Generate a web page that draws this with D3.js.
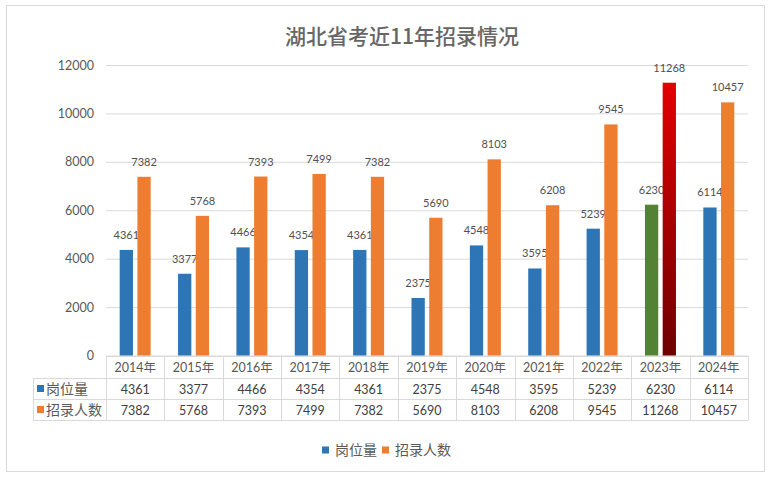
<!DOCTYPE html>
<html>
<head>
<meta charset="utf-8">
<script src="https://cdn.jsdelivr.net/npm/d3@7"></script>
<style>
  body { margin: 0; background: #fff; }
  svg { display: block; }
  text { font-family: Lato, "Noto Sans CJK SC", sans-serif; }
</style>
</head>
<body>
<svg id="chart" width="772" height="479"></svg>
<script>
/* Data */
var years = ["2014年", "2015年", "2016年", "2017年", "2018年", "2019年", "2020年", "2021年", "2022年", "2023年", "2024年"];
var seriesNames = ["岗位量", "招录人数"];
var posts = [4361, 3377, 4466, 4354, 4361, 2375, 4548, 3595, 5239, 6230, 6114];
var hires = [7382, 5768, 7393, 7499, 7382, 5690, 8103, 6208, 9545, 11268, 10457];
var yTicks = [0, 2000, 4000, 6000, 8000, 10000, 12000];

/* Settings */
var cfg = {
  left: 106, right: 748, top: 65, bottom: 355.5,
  gridColor: "#D9D9D9",
  textColor: "#595959",
  colors: ["#2E75B6", "#ED7D31"],
  highlightYear: "2023年",
  rowH: [356, 378, 399, 420],
  tableLeft: 33
};

var svg = d3.select("svg#chart");

/* gradient for the highlighted bar */
var defs = svg.append("defs");
var grad = defs.append("linearGradient")
  .attr("id", "redGrad")
  .attr("x1", 0).attr("y1", 0).attr("x2", 0).attr("y2", 1);
grad.append("stop").attr("offset", "0%").attr("stop-color", "#E30000");
grad.append("stop").attr("offset", "100%").attr("stop-color", "#6E0000");

/* outer frame */
svg.append("rect")
  .attr("x", 6.5).attr("y", 5.5)
  .attr("width", 758).attr("height", 466)
  .attr("fill", "#fff")
  .attr("stroke", "#D9D9D9");

/* title */
svg.append("text")
  .attr("x", 402).attr("y", 44)
  .attr("text-anchor", "middle")
  .style("font-family", "'Noto Sans CJK SC', sans-serif")
  .style("font-size", "21px")
  .style("font-weight", "500")
  .attr("fill", "#666")
  .text("湖北省考近11年招录情况");

/* scales */
var x0 = d3.scaleBand().domain(years).range([cfg.left, cfg.right]);
var x1 = d3.scaleBand().domain(seriesNames)
  .range([x0.bandwidth() / 2 - 15.5, x0.bandwidth() / 2 + 15.5])
  .paddingInner(0.25);
var y = d3.scaleLinear().domain([0, 12000]).range([cfg.bottom, cfg.top]);

/* gridlines + y labels */
var yAxis = d3.axisLeft(y)
  .tickValues(yTicks)
  .tickFormat(d3.format("d"))
  .tickSize(-(cfg.right - cfg.left))
  .tickPadding(12);
var gy = svg.append("g")
  .attr("transform", `translate(${cfg.left},0)`)
  .call(yAxis);
gy.select(".domain").remove();
gy.selectAll(".tick line").attr("stroke", cfg.gridColor).attr("stroke-width", 1);
gy.selectAll(".tick text")
  .attr("fill", cfg.textColor)
  .style("font-size", "12.5px")
  .style("font-family", "Lato, sans-serif");

/* bars */
var rows = years.map((yr, i) => ({ year: yr, values: [posts[i], hires[i]] }));

var groups = svg.append("g").selectAll("g")
  .data(rows)
  .enter()
  .append("g")
  .attr("transform", d => `translate(${x0(d.year)},0)`);

function barFill(d) {
  if (d.year === cfg.highlightYear) return d.s === 0 ? "#548235" : "url(#redGrad)";
  return cfg.colors[d.s];
}

var bars = groups.selectAll("g.bar")
  .data(d => d.values.map((v, s) => ({ year: d.year, s: s, v: v })))
  .enter()
  .append("g")
  .attr("class", "bar");

bars.append("rect")
  .attr("x", d => x1(seriesNames[d.s]))
  .attr("width", x1.bandwidth())
  .attr("y", d => y(d.v))
  .attr("height", d => y(0) - y(d.v))
  .attr("fill", barFill);

bars.append("text")
  .attr("x", d => x1(seriesNames[d.s]) + x1.bandwidth() / 2)
  .attr("y", d => y(d.v) - 11)
  .attr("text-anchor", "middle")
  .attr("fill", "#505050")
  .style("font-size", "11px")
  .text(d => d.v);

/* data table */
var tbl = svg.append("g");
var R = cfg.rowH;

// horizontal lines
tbl.append("line").attr("x1", cfg.left).attr("x2", cfg.right).attr("y1", R[0] + 0.5).attr("y2", R[0] + 0.5);
[R[1], R[2], R[3]].forEach(yy => {
  tbl.append("line").attr("x1", cfg.tableLeft).attr("x2", cfg.right).attr("y1", yy + 0.5).attr("y2", yy + 0.5);
});
// vertical lines
years.forEach(yr => {
  tbl.append("line").attr("x1", Math.round(x0(yr)) + 0.5).attr("x2", Math.round(x0(yr)) + 0.5)
    .attr("y1", R[0]).attr("y2", R[3]);
});
tbl.append("line").attr("x1", cfg.right + 0.5).attr("x2", cfg.right + 0.5).attr("y1", R[0]).attr("y2", R[3]);
tbl.append("line").attr("x1", cfg.tableLeft + 0.5).attr("x2", cfg.tableLeft + 0.5).attr("y1", R[1]).attr("y2", R[3]);
tbl.selectAll("line").attr("stroke", cfg.gridColor).attr("stroke-width", 1);

// header years
tbl.selectAll("text.yr")
  .data(years)
  .enter()
  .append("text")
  .attr("class", "yr")
  .attr("x", d => x0(d) + x0.bandwidth() / 2)
  .attr("y", (R[0] + R[1]) / 2 + 5)
  .attr("text-anchor", "middle")
  .attr("fill", cfg.textColor)
  .style("font-size", "12.5px")
  .text(d => d);

// series rows
[posts, hires].forEach((vals, s) => {
  var cy = (R[s + 1] + R[s + 2]) / 2;
  tbl.append("rect")
    .attr("x", 37).attr("y", cy - 3.5)
    .attr("width", 7).attr("height", 7)
    .attr("fill", cfg.colors[s]);
  tbl.append("text")
    .attr("x", 46).attr("y", cy + 5)
    .attr("fill", cfg.textColor)
    .style("font-family", "'Noto Sans CJK SC', sans-serif")
    .style("font-size", "14px")
    .text(seriesNames[s]);
  tbl.selectAll("text.v" + s)
    .data(vals)
    .enter()
    .append("text")
    .attr("class", "v" + s)
    .attr("x", (d, i) => x0(years[i]) + x0.bandwidth() / 2)
    .attr("y", cy + 5)
    .attr("text-anchor", "middle")
    .attr("fill", "#404040")
    .style("font-size", "12.5px")
    .text(d => d);
});

/* legend */
var legend = svg.append("g").attr("transform", "translate(322,450)");
var legItems = legend.selectAll("g")
  .data(seriesNames)
  .enter()
  .append("g")
  .attr("transform", (d, i) => `translate(${i * 60},0)`);
legItems.append("rect")
  .attr("x", 0).attr("y", -3.5)
  .attr("width", 7).attr("height", 7)
  .attr("fill", (d, i) => cfg.colors[i]);
legItems.append("text")
  .attr("x", 13).attr("y", 5)
  .attr("fill", cfg.textColor)
  .style("font-family", "'Noto Sans CJK SC', sans-serif")
  .style("font-size", "14px")
  .text(d => d);
</script>
</body>
</html>
